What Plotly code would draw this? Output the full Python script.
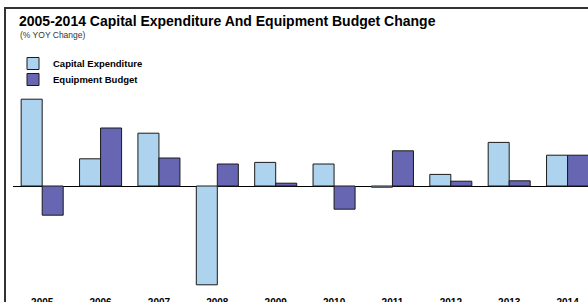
import plotly.graph_objects as go

years = ["2005", "2006", "2007", "2008", "2009", "2010", "2011", "2012", "2013", "2014"]
capital_expenditure = [21.7, 6.8, 13.2, -24.7, 5.9, 5.5, -0.3, 2.9, 10.9, 7.7]
equipment_budget = [-7.3, 14.5, 7.0, 5.5, 0.7, -5.8, 8.8, 1.2, 1.3, 7.7]

FONT = "Liberation Sans, Arial, sans-serif"
LIGHT = "#AED3EE"
PURPLE = "#6666B2"

W, H = 588, 302
ml, mr, mt, mb = 13, 0, 45, 12
pw, ph = W - ml - mr, H - mt - mb
ZERO_Y = 186


def px_x(p):
    return (p - ml) / pw


def px_y(p):
    return (H - mb - p) / ph


fig = go.Figure()
fig.add_trace(go.Bar(x=years, y=capital_expenditure, name="Capital Expenditure",
                     legend="legend",
                     marker=dict(color=LIGHT, line=dict(color="#1a1a1a", width=1))))
fig.add_trace(go.Bar(x=years, y=equipment_budget, name="Equipment Budget",
                     legend="legend2",
                     marker=dict(color=PURPLE, line=dict(color="#1a1a1a", width=1))))

legend_common = dict(
    xanchor="left", yanchor="middle",
    font=dict(size=9.5, family=FONT, color="#000", weight="bold"),
    bgcolor="rgba(0,0,0,0)", borderwidth=0,
)

fig.update_layout(
    width=W, height=H,
    margin=dict(l=ml, r=mr, t=mt, b=mb, autoexpand=False),
    paper_bgcolor="white", plot_bgcolor="white",
    barmode="group", bargap=0.28, bargroupgap=0,
    font=dict(family=FONT, color="#000"),
    title=dict(
        text="<b>2005-2014 Capital Expenditure And Equipment Budget Change</b>",
        font=dict(size=14, color="#000", family=FONT),
        x=19 / W, xanchor="left", xref="container",
        y=1 - 16 / H, yanchor="top", yref="container",
    ),
    annotations=[dict(
        text="(% YOY Change)", xref="paper", yref="paper",
        x=px_x(18), y=px_y(35), xanchor="left", yanchor="middle",
        showarrow=False, font=dict(size=8.5, color="#333", family=FONT),
    )],
    showlegend=True,
    legend=dict(x=px_x(13), y=px_y(63.5), **legend_common),
    legend2=dict(x=px_x(13), y=px_y(79.5), **legend_common),
    xaxis=dict(
        type="category", range=[-0.5, 9.35], showgrid=False, showline=False,
        zeroline=False, ticks="", fixedrange=True, automargin=False,
        tickfont=dict(size=10, family=FONT, color="#000", weight="bold"),
        ticklabelstandoff=5,
    ),
    yaxis=dict(
        range=[-(H - mb - ZERO_Y) / 4, (ZERO_Y - mt) / 4], showgrid=False, showline=False,
        showticklabels=False, ticks="", zeroline=True, zerolinecolor="#000",
        zerolinewidth=1, fixedrange=True, automargin=False,
    ),
    shapes=[dict(
        type="rect", xref="paper", yref="paper", layer="above",
        x0=px_x(5), x1=1.2, y0=-0.5, y1=px_y(8),
        line=dict(color="#333", width=2), fillcolor="rgba(0,0,0,0)",
    )],
)

fig.write_html("out.html", config={"displayModeBar": False},
               post_script="document.body.style.margin='0';")
